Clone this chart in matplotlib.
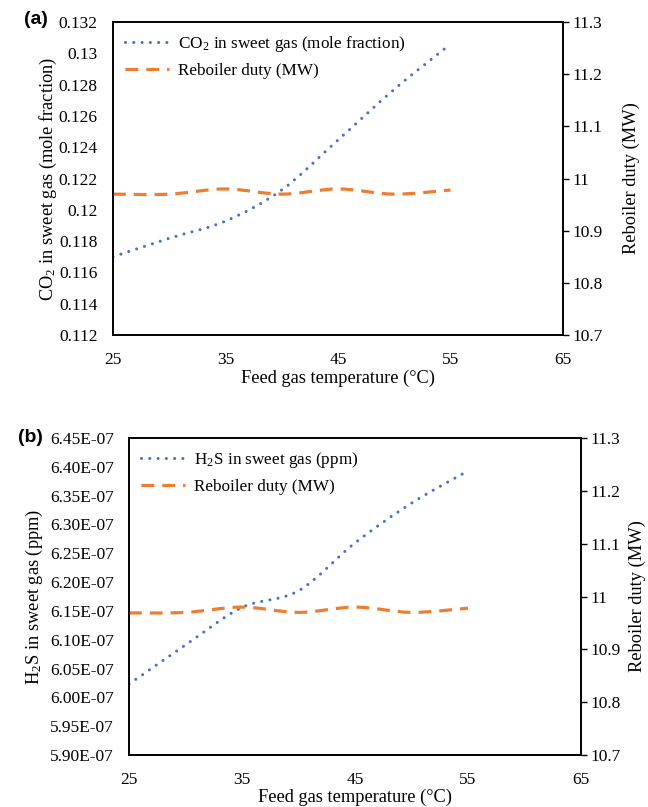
import matplotlib
matplotlib.use('Agg')
from matplotlib import pyplot as plt
from matplotlib.path import Path
from matplotlib.patches import PathPatch
from matplotlib.lines import Line2D
from matplotlib.ticker import FuncFormatter

plt.rcParams['font.family'] = ['Liberation Serif', 'DejaVu Serif']
plt.rcParams['mathtext.fontset'] = 'stix'

temp = [25, 30, 35, 40, 45, 50, 55]
co2 = [0.1170, 0.11818, 0.11928, 0.12127, 0.12446, 0.1277, 0.13059]
h2s = [6.023e-07, 6.091e-07, 6.156e-07, 6.185e-07, 6.268e-07, 6.337e-07, 6.393e-07]
duty_a = [10.970, 10.970, 10.980, 10.970, 10.980, 10.970, 10.978]
duty_b = [10.969, 10.970, 10.980, 10.970, 10.980, 10.970, 10.978]

x_ticks = [25, 35, 45, 55, 65]
co2_ticks = [0.112, 0.114, 0.116, 0.118, 0.12, 0.122, 0.124, 0.126, 0.128, 0.13, 0.132]
h2s_ticks = [5.90e-07 + i * 0.05e-07 for i in range(12)]
duty_ticks = [10.7, 10.8, 10.9, 11.0, 11.1, 11.2, 11.3]

BLUE = '#4472C4'
ORANGE = '#ED7D31'
DOT = dict(color=BLUE, lw=2.2, linestyle=(0, (0.01, 2.7)), capstyle='round')
DASH = dict(color=ORANGE, lw=2.3, linestyle=(0, (4, 2.5)), capstyle='butt')


def smooth_path(xs, ys):
    # excel-like smoothed line as cubic bezier segments
    n = len(xs)
    verts = [(xs[0], ys[0])]
    codes = [Path.MOVETO]
    for i in range(n - 1):
        x0, y0 = xs[max(i - 1, 0)], ys[max(i - 1, 0)]
        x1, y1 = xs[i], ys[i]
        x2, y2 = xs[i + 1], ys[i + 1]
        x3, y3 = xs[min(i + 2, n - 1)], ys[min(i + 2, n - 1)]
        c1 = (x1 + (x2 - x0) / 6, y1 + (y2 - y0) / 6)
        c2 = (x2 - (x3 - x1) / 6, y2 - (y3 - y1) / 6)
        verts += [c1, c2, (x2, y2)]
        codes += [Path.CURVE4] * 3
    return Path(verts, codes)


def draw_curve(ax, xs, ys, style):
    ax.add_patch(PathPatch(smooth_path(xs, ys), fill=False,
                           edgecolor=style['color'], lw=style['lw'],
                           linestyle=style['linestyle'], capstyle=style['capstyle']))


def panel(fig, rect, yvals, duty, yticks, ylim, yfmt, ylabel, lx, rx, xly):
    ax = fig.add_axes(rect)
    ax2 = ax.twinx()
    draw_curve(ax, temp, yvals, DOT)
    draw_curve(ax2, temp, duty, DASH)

    ax.set_xlim(25, 65)
    ax.set_xticks(x_ticks)
    ax.set_ylim(*ylim)
    ax.set_yticks(yticks)
    ax.yaxis.set_major_formatter(FuncFormatter(yfmt))
    ax2.set_ylim(10.7, 11.3)
    ax2.set_yticks(duty_ticks)
    ax2.yaxis.set_major_formatter(FuncFormatter(lambda v, p: '{:g}'.format(round(v, 2))))

    ax.tick_params(axis='both', length=0, labelsize=12.5)
    ax.tick_params(axis='x', pad=12)
    ax.tick_params(axis='y', pad=11)
    ax2.tick_params(axis='y', length=4, width=1, labelsize=12.5, pad=3)
    for a in (ax, ax2):
        for s in a.spines.values():
            s.set_linewidth(1.2)

    ax.set_xlabel('Feed gas temperature (°C)', fontsize=13.2)
    ax.xaxis.set_label_coords(0.5, xly)
    ax.set_ylabel(ylabel, fontsize=13.2)
    ax.yaxis.set_label_coords(lx, 0.5)
    ax2.set_ylabel('Reboiler duty (MW)', fontsize=13.2)
    ax2.yaxis.set_label_coords(rx, 0.5)

    handles = [Line2D([], [], color=BLUE, lw=DOT['lw'], linestyle=DOT['linestyle'],
                      dash_capstyle='round'),
               Line2D([], [], color=ORANGE, lw=DASH['lw'], linestyle=DASH['linestyle'])]
    ax.legend(handles, [ylabel, 'Reboiler duty (MW)'], loc='upper left',
              frameon=False, fontsize=12.3, handlelength=2.6, handletextpad=0.5,
              labelspacing=0.55, borderaxespad=0.3, bbox_to_anchor=(0.0, 1.0))
    return ax


fig = plt.figure(figsize=(6.48, 8.07), dpi=100)

panel(fig, [0.1744, 0.5849, 0.6944, 0.3878], co2, duty_a, co2_ticks, (0.112, 0.132),
      lambda v, p: '{:g}'.format(round(v, 4)),
      r'CO$_\mathregular{2}$ in sweet gas (mole fraction)', -0.12, 1.132, -0.11)
panel(fig, [0.1991, 0.0644, 0.6975, 0.3928], h2s, duty_b, h2s_ticks, (5.90e-07, 6.45e-07),
      lambda v, p: '{:.2E}'.format(v),
      r'H$_\mathregular{2}$S in sweet gas (ppm)', -0.185, 1.106, -0.105)

fig.text(36 / 648, 1 - 20 / 807, '(a)', family='Liberation Sans', weight='bold',
         fontsize=14, ha='center', va='center')
fig.text(30 / 648, 1 - 437 / 807, '(b)', family='Liberation Sans', weight='bold',
         fontsize=14, ha='center', va='center')

fig.savefig('out.png', dpi=100)
